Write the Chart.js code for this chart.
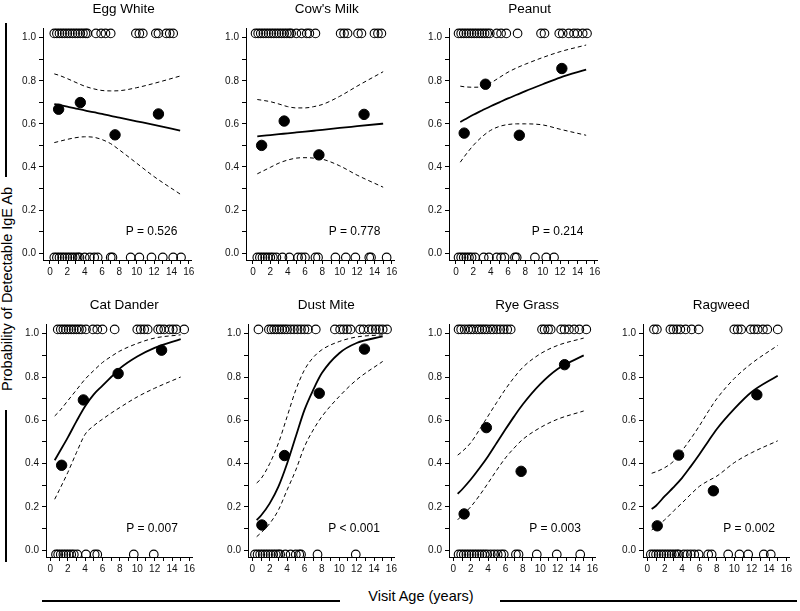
<!DOCTYPE html>
<html>
<head>
<meta charset="utf-8">
<title>Probability of Detectable IgE Ab by Visit Age</title>
<script src="https://cdn.jsdelivr.net/npm/chart.js@4.4.1/dist/chart.umd.min.js"></script>
<style>
  body { margin: 0; background: #fff; }
  #wrap { position: relative; width: 800px; height: 611px; overflow: hidden; font-family: "Liberation Sans", Arial, sans-serif; color: #000; }
  #wrap canvas { position: absolute; }
  .ylab { position: absolute; left: 7px; top: 289px; transform: translate(-50%, -50%) rotate(-90deg); font-size: 14.5px; white-space: nowrap; }
  .xlab { position: absolute; left: 421px; top: 596px; transform: translate(-50%, -50%); font-size: 14.5px; white-space: nowrap; }
  .rule { position: absolute; background: #000; }
</style>
</head>
<body>
<div id="wrap">
  <div class="rule" style="left:5px; top:23px; width:1.5px; height:154px"></div>
  <div class="ylab">Probability of Detectable IgE Ab</div>
  <div class="rule" style="left:5px; top:410px; width:1.5px; height:152px"></div>
  <div class="rule" style="left:42px; top:600px; width:298px; height:1.5px"></div>
  <div class="xlab">Visit Age (years)</div>
  <div class="rule" style="left:500px; top:600px; width:297px; height:1.5px"></div>
</div>
<script>
// ticks
const xTicks = [0, 1, 2, 3, 4, 5, 6, 7, 8, 9, 10, 11, 12, 13, 14, 15, 16];
const yTicks = [0, 0.1, 0.2, 0.3, 0.4, 0.5, 0.6, 0.7, 0.8, 0.9, 1.0];

// individual visits are plotted just above 1 (detectable) or just below 0 (not detectable)
const POSITIVE = 1.02;
const NEGATIVE = -0.02;

// ages where the fitted curve and its confidence band were read
const curveAges = [0.5, 1, 2, 3, 4, 5, 6, 7, 8, 10, 12, 15];

// Egg White
const eggPos = [0.5, 0.8, 1.1, 1.4, 1.7, 2.0, 2.3, 2.6, 2.9, 3.2, 3.5, 3.8, 4.1, 4.3, 5.3, 5.9, 6.4, 7.0, 9.9, 10.3, 10.7, 12.2, 12.5, 13.4, 13.8, 14.2];
const eggNeg = [0.5, 0.8, 1.1, 1.4, 1.7, 2.0, 2.3, 2.6, 2.9, 3.2, 3.4, 4.0, 4.6, 5.1, 5.5, 7.0, 7.2, 9.3, 10.3, 11.7, 13.0, 14.2, 15.1];
const eggObsAge = [1.0, 3.5, 7.5, 12.5];
const eggObsProb = [0.668, 0.699, 0.549, 0.646];
const eggFit = [0.692, 0.688, 0.680, 0.671, 0.663, 0.654, 0.646, 0.637, 0.629, 0.612, 0.595, 0.569];
const eggUpper = [0.832, 0.826, 0.810, 0.792, 0.775, 0.763, 0.755, 0.753, 0.754, 0.768, 0.788, 0.822];
const eggLower = [0.513, 0.518, 0.528, 0.536, 0.540, 0.538, 0.527, 0.508, 0.479, 0.417, 0.355, 0.274];

// Cow's Milk
const milkPos = [0.3, 0.6, 0.9, 1.2, 1.5, 1.8, 2.1, 2.4, 2.7, 3.0, 3.3, 3.6, 3.9, 4.2, 4.4, 5.0, 5.6, 6.2, 6.5, 7.2, 10.1, 10.5, 10.9, 12.1, 12.5, 14.0, 14.4, 14.8];
const milkNeg = [0.5, 0.8, 1.1, 1.4, 1.7, 2.0, 2.3, 2.7, 3.4, 4.2, 5.2, 5.6, 6.0, 7.2, 7.5, 9.5, 10.7, 11.8, 13.4, 13.6, 15.4];
const milkObsAge = [1.0, 3.6, 7.6, 12.8];
const milkObsProb = [0.500, 0.613, 0.456, 0.644];
const milkFit = [0.542, 0.544, 0.548, 0.552, 0.556, 0.560, 0.564, 0.568, 0.572, 0.581, 0.589, 0.601];
const milkUpper = [0.713, 0.710, 0.703, 0.692, 0.680, 0.674, 0.674, 0.680, 0.690, 0.728, 0.775, 0.842];
const milkLower = [0.368, 0.378, 0.398, 0.418, 0.432, 0.441, 0.443, 0.441, 0.436, 0.405, 0.362, 0.306];

// Peanut
const peanutPos = [0.3, 0.6, 0.9, 1.2, 1.5, 1.8, 2.1, 2.4, 2.7, 3.0, 3.3, 3.6, 3.9, 4.7, 5.2, 5.8, 7.1, 9.8, 10.2, 11.9, 12.3, 13.0, 13.6, 14.0, 14.6, 15.1];
const peanutNeg = [0.3, 0.6, 0.9, 1.2, 1.5, 1.8, 2.2, 3.2, 3.8, 4.7, 5.2, 5.6, 6.8, 7.0, 9.1, 10.4, 11.3];
const peanutObsAge = [0.95, 3.4, 7.3, 12.2];
const peanutObsProb = [0.557, 0.784, 0.547, 0.857];
const peanutFit = [0.609, 0.620, 0.642, 0.662, 0.682, 0.700, 0.718, 0.735, 0.752, 0.784, 0.815, 0.852];
const peanutUpper = [0.775, 0.772, 0.770, 0.772, 0.790, 0.815, 0.840, 0.860, 0.877, 0.908, 0.935, 0.966];
const peanutLower = [0.422, 0.450, 0.500, 0.540, 0.570, 0.588, 0.597, 0.600, 0.600, 0.595, 0.575, 0.547];

// Cat Dander
const catPos = [0.85, 1.2, 1.5, 1.8, 2.1, 2.4, 2.7, 3.0, 3.3, 3.6, 4.1, 4.9, 5.4, 6.0, 7.4, 10.0, 10.4, 10.8, 11.2, 12.4, 12.7, 13.1, 13.7, 14.1, 14.5, 15.4];
const catNeg = [0.65, 0.9, 1.2, 1.5, 1.8, 2.1, 2.4, 2.7, 3.1, 4.1, 5.1, 5.4, 9.6, 11.9];
const catObsAge = [1.3, 3.8, 7.8, 12.8];
const catObsProb = [0.392, 0.694, 0.816, 0.924];
const catFit = [0.415, 0.450, 0.520, 0.595, 0.665, 0.720, 0.760, 0.800, 0.840, 0.895, 0.935, 0.975];
const catUpper = [0.620, 0.640, 0.690, 0.740, 0.790, 0.830, 0.867, 0.895, 0.920, 0.955, 0.980, 0.995];
const catLower = [0.235, 0.275, 0.358, 0.450, 0.535, 0.575, 0.605, 0.633, 0.659, 0.708, 0.748, 0.800];

// Dust Mite
const mitePos = [0.7, 1.9, 2.2, 2.5, 2.8, 3.1, 3.4, 3.7, 4.0, 4.4, 4.8, 5.2, 5.6, 6.0, 6.4, 7.3, 9.5, 10.1, 10.5, 10.9, 11.3, 12.4, 12.8, 13.4, 13.8, 14.2, 14.6, 15.0, 15.5];
const miteNeg = [0.3, 0.6, 0.9, 1.2, 1.5, 1.8, 2.1, 2.4, 2.7, 3.0, 3.2, 3.8, 4.4, 5.0, 5.4, 5.6, 7.5, 11.9];
const miteObsAge = [1.1, 3.7, 7.7, 12.9];
const miteObsProb = [0.116, 0.437, 0.725, 0.929];
const miteFit = [0.139, 0.160, 0.216, 0.293, 0.400, 0.525, 0.648, 0.740, 0.818, 0.910, 0.957, 0.988];
const miteUpper = [0.310, 0.330, 0.400, 0.494, 0.617, 0.740, 0.833, 0.890, 0.926, 0.964, 0.985, 0.995];
const miteLower = [0.062, 0.080, 0.123, 0.185, 0.278, 0.370, 0.478, 0.555, 0.617, 0.710, 0.787, 0.872];

// Rye Grass
const ryePos = [0.6, 0.9, 1.3, 1.7, 2.0, 2.3, 2.7, 3.0, 3.3, 3.6, 3.9, 4.3, 4.6, 5.0, 5.4, 5.8, 6.2, 6.6, 10.2, 10.5, 10.9, 11.2, 12.4, 12.8, 13.3, 13.9, 14.5, 15.3];
const ryeNeg = [0.6, 0.9, 1.2, 1.5, 1.8, 2.1, 2.4, 2.7, 3.0, 3.3, 3.6, 3.9, 4.3, 4.7, 5.1, 5.5, 5.8, 7.2, 7.5, 9.6, 11.9, 14.6];
const ryeObsAge = [1.24, 3.8, 7.8, 12.8];
const ryeObsProb = [0.167, 0.566, 0.364, 0.857];
const ryeFit = [0.260, 0.280, 0.326, 0.378, 0.434, 0.496, 0.558, 0.618, 0.674, 0.767, 0.837, 0.900];
const ryeUpper = [0.439, 0.455, 0.496, 0.556, 0.620, 0.683, 0.744, 0.798, 0.845, 0.907, 0.946, 0.980];
const ryeLower = [0.140, 0.160, 0.200, 0.252, 0.310, 0.370, 0.426, 0.472, 0.512, 0.566, 0.605, 0.643];

// Ragweed
const ragPos = [0.76, 1.1, 2.65, 3.0, 3.4, 3.8, 4.4, 5.1, 5.9, 10.0, 10.4, 10.8, 11.9, 12.3, 12.7, 13.3, 13.8, 15.0];
const ragNeg = [0.4, 0.7, 1.0, 1.3, 1.6, 1.9, 2.2, 2.5, 2.8, 3.1, 3.4, 3.6, 4.2, 4.6, 5.0, 5.4, 5.9, 7.0, 7.4, 9.3, 10.6, 11.6, 13.4, 14.2];
const ragObsAge = [1.14, 3.6, 7.6, 12.6];
const ragObsProb = [0.112, 0.439, 0.274, 0.718];
const ragFit = [0.190, 0.205, 0.249, 0.290, 0.334, 0.387, 0.443, 0.502, 0.560, 0.653, 0.731, 0.806];
const ragUpper = [0.355, 0.362, 0.381, 0.410, 0.460, 0.515, 0.575, 0.640, 0.700, 0.793, 0.863, 0.946];
const ragLower = [0.093, 0.108, 0.140, 0.180, 0.218, 0.258, 0.295, 0.320, 0.342, 0.404, 0.450, 0.505];

const FONT = '"Liberation Sans", Arial, sans-serif';

// panel layout: canvas position and x range for each row
const TOP_ROW = { top: 0, w: 190, h: 280, xmin: -0.8, xmax: 16.25 };
const BOTTOM_ROW = { top: 296, w: 188, h: 281, xmin: -0.5, xmax: 16.3 };

const panels = [
    { title: 'Egg White', p: 'P = 0.526', left: 11, row: TOP_ROW, pos: eggPos, neg: eggNeg, obsAge: eggObsAge, obsProb: eggObsProb, fit: eggFit, upper: eggUpper, lower: eggLower },
    { title: "Cow's Milk", p: 'P = 0.778', left: 214, row: TOP_ROW, pos: milkPos, neg: milkNeg, obsAge: milkObsAge, obsProb: milkObsProb, fit: milkFit, upper: milkUpper, lower: milkLower },
    { title: 'Peanut', p: 'P = 0.214', left: 417, row: TOP_ROW, pos: peanutPos, neg: peanutNeg, obsAge: peanutObsAge, obsProb: peanutObsProb, fit: peanutFit, upper: peanutUpper, lower: peanutLower },
    { title: 'Cat Dander', p: 'P = 0.007', left: 14, row: BOTTOM_ROW, pos: catPos, neg: catNeg, obsAge: catObsAge, obsProb: catObsProb, fit: catFit, upper: catUpper, lower: catLower },
    { title: 'Dust Mite', p: 'P < 0.001', left: 216, row: BOTTOM_ROW, pos: mitePos, neg: miteNeg, obsAge: miteObsAge, obsProb: miteObsProb, fit: miteFit, upper: miteUpper, lower: miteLower },
    { title: 'Rye Grass', p: 'P = 0.003', left: 417, row: BOTTOM_ROW, pos: ryePos, neg: ryeNeg, obsAge: ryeObsAge, obsProb: ryeObsProb, fit: ryeFit, upper: ryeUpper, lower: ryeLower },
    { title: 'Ragweed', p: 'P = 0.002', left: 611, row: BOTTOM_ROW, pos: ragPos, neg: ragNeg, obsAge: ragObsAge, obsProb: ragObsProb, fit: ragFit, upper: ragUpper, lower: ragLower }
];

// title above the plot and the P value inside it
const panelText = {
    id: 'panelText',
    afterDraw(chart, args, opts) {
        const { ctx, chartArea, scales } = chart;
        ctx.save();
        ctx.fillStyle = '#000';
        ctx.textAlign = 'center';
        ctx.textBaseline = 'middle';
        ctx.font = '13.5px ' + FONT;
        ctx.fillText(opts.title, scales.x.getPixelForValue(8.5), chartArea.top - 19);
        ctx.font = '12px ' + FONT;
        ctx.fillText(opts.p, scales.x.getPixelForValue(11.7), scales.y.getPixelForValue(0.1));
        ctx.restore();
    }
};

function curve(values) {
    return curveAges.map((x, i) => ({ x: x, y: values[i] }));
}

function openCircles(ages, y) {
    return {
        data: ages.map(x => ({ x: x, y: y })),
        pointRadius: 4.3,
        pointBorderWidth: 1.1,
        pointBorderColor: '#000',
        pointBackgroundColor: 'rgba(255,255,255,0)',
        showLine: false
    };
}

function makePanel(p) {
    const canvas = document.createElement('canvas');
    canvas.width = p.row.w;
    canvas.height = p.row.h;
    canvas.style.left = p.left + 'px';
    canvas.style.top = p.row.top + 'px';
    document.getElementById('wrap').appendChild(canvas);

    new Chart(canvas, {
        type: 'scatter',
        data: {
            datasets: [
                {
                    data: curve(p.fit),
                    showLine: true,
                    borderColor: '#000',
                    borderWidth: 1.8,
                    pointRadius: 0,
                    cubicInterpolationMode: 'monotone'
                },
                {
                    data: curve(p.upper),
                    showLine: true,
                    borderColor: '#000',
                    borderWidth: 1,
                    borderDash: [4, 3],
                    pointRadius: 0,
                    cubicInterpolationMode: 'monotone'
                },
                {
                    data: curve(p.lower),
                    showLine: true,
                    borderColor: '#000',
                    borderWidth: 1,
                    borderDash: [4, 3],
                    pointRadius: 0,
                    cubicInterpolationMode: 'monotone'
                },
                {
                    data: p.obsAge.map((x, i) => ({ x: x, y: p.obsProb[i] })),
                    pointRadius: 5.2,
                    pointBackgroundColor: '#000',
                    pointBorderColor: '#000',
                    showLine: false
                },
                openCircles(p.pos, POSITIVE),
                openCircles(p.neg, NEGATIVE)
            ]
        },
        options: {
            responsive: false,
            animation: false,
            devicePixelRatio: 1,
            layout: { padding: { top: 28, right: 10, left: 0, bottom: 0 } },
            plugins: {
                legend: { display: false },
                tooltip: { enabled: false },
                panelText: { title: p.title, p: p.p }
            },
            scales: {
                x: {
                    type: 'linear',
                    min: p.row.xmin,
                    max: p.row.xmax,
                    afterBuildTicks: s => { s.ticks = xTicks.map(v => ({ value: v })); },
                    afterFit: s => { s.height = 20; },
                    grid: { drawOnChartArea: false, tickLength: 4, tickColor: '#000', color: '#000' },
                    border: { color: '#000', width: 1 },
                    ticks: {
                        autoSkip: false,
                        maxRotation: 0,
                        padding: 2,
                        color: '#111',
                        font: { size: 10, family: FONT },
                        callback: v => (v % 2 === 0 ? String(v) : '')
                    }
                },
                y: {
                    type: 'linear',
                    min: -0.032,
                    max: 1.045,
                    afterBuildTicks: s => { s.ticks = yTicks.map(v => ({ value: v })); },
                    afterFit: s => { s.width = 32; },
                    grid: { drawOnChartArea: false, tickLength: 4, tickColor: '#000', color: '#000' },
                    border: { color: '#000', width: 1 },
                    ticks: {
                        autoSkip: false,
                        padding: 3,
                        color: '#111',
                        font: { size: 10, family: FONT },
                        callback: v => (Math.round(v * 10) % 2 === 0 ? v.toFixed(1) : '')
                    }
                }
            }
        },
        plugins: [panelText]
    });
}

panels.forEach(makePanel);
</script>
</body>
</html>
